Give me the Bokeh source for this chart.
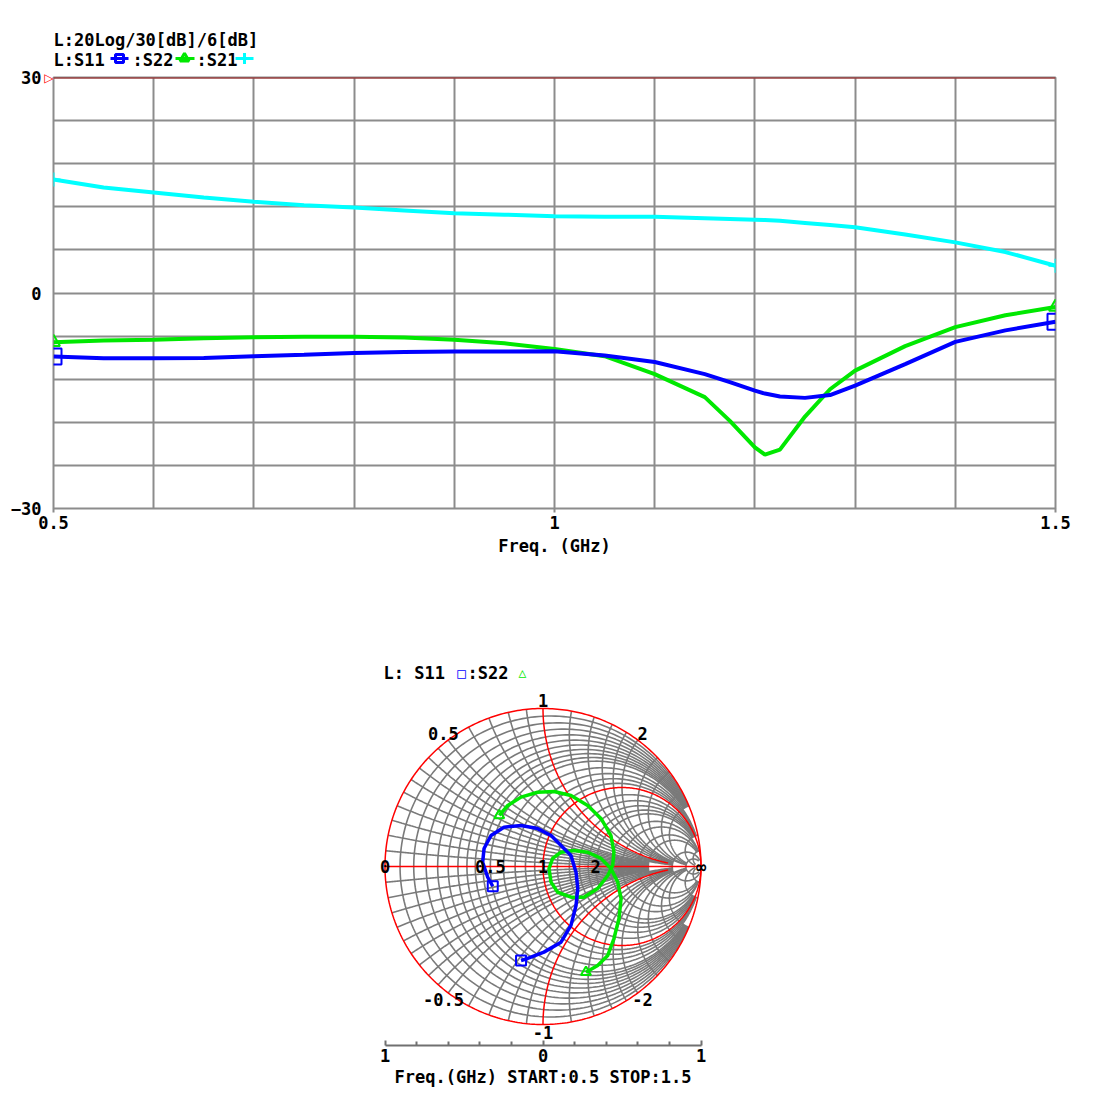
import numpy as np
from bokeh.plotting import figure
from bokeh.models import FixedTicker, Label, Span, Range1d, LinearAxis
from bokeh.layouts import column
from bokeh.embed import file_html
from bokeh.resources import INLINE

FONT = "DejaVu Sans Mono"
FS = "17px"

# ---------------- data: magnitude plot ----------------
freq = [0.5, 0.55, 0.6, 0.65, 0.7, 0.75, 0.8, 0.85, 0.9, 0.95, 1.0, 1.05, 1.1,
        1.15, 1.175, 1.2, 1.21, 1.225, 1.25, 1.275, 1.3, 1.35, 1.4, 1.45, 1.5]
s21_db = [15.8, 14.7, 14.0, 13.3, 12.7, 12.2, 11.9, 11.5, 11.1, 10.9, 10.7, 10.6, 10.6,
          10.4, 10.3, 10.2, 10.15, 10.05, 9.75, 9.45, 9.15, 8.15, 7.05, 5.7, 3.8]
s11_db = [-8.85, -9.1, -9.1, -9.05, -8.8, -8.6, -8.35, -8.2, -8.15, -8.15, -8.1, -8.7, -9.6,
          -11.3, -12.4, -13.6, -14.0, -14.4, -14.6, -14.2, -12.9, -9.9, -6.8, -5.2, -4.0]
s22_db = [-6.85, -6.6, -6.5, -6.3, -6.15, -6.1, -6.1, -6.2, -6.5, -7.0, -7.8, -8.8, -11.3,
          -14.5, -17.8, -21.5, -22.5, -21.8, -17.2, -13.4, -10.8, -7.4, -4.75, -3.1, -1.95]

x_ticks = [0.5, 1.0, 1.5]
x_tick_labels = ["0.5", "1", "1.5"]
y_ticks = [-30, 0, 30]
x_grid = [0.5, 0.6, 0.7, 0.8, 0.9, 1.0, 1.1, 1.2, 1.3, 1.4, 1.5]
y_grid = [-30, -24, -18, -12, -6, 0, 6, 12, 18, 24, 30]
ref_level = 30

# ---------------- data: Smith chart (reflection coefficient) ----------------
s11_re = [-0.318, -0.35, -0.382, -0.373, -0.329, -0.247, -0.139, -0.034, 0.051, 0.114,
          0.177, 0.209, 0.22, 0.209, 0.177, 0.114, 0.006, -0.097, -0.139]
s11_im = [-0.125, -0.068, 0.027, 0.114, 0.196, 0.249, 0.259, 0.24, 0.196, 0.133,
          0.07, -0.036, -0.139, -0.247, -0.373, -0.479, -0.542, -0.582, -0.595]
s22_re = [-0.277, -0.223, -0.139, -0.034, 0.07, 0.177, 0.283, 0.367, 0.43, 0.449, 0.441,
          0.41, 0.346, 0.259, 0.177, 0.093, 0.051, 0.038, 0.061, 0.114, 0.196, 0.283,
          0.367, 0.43, 0.473, 0.494, 0.481, 0.449, 0.41, 0.346, 0.272]
s22_im = [0.323, 0.386, 0.439, 0.470, 0.475, 0.449, 0.386, 0.304, 0.196, 0.09, 0.006,
          -0.057, -0.139, -0.194, -0.194, -0.163, -0.099, -0.013, 0.051, 0.09, 0.101, 0.09,
          0.051, -0.013, -0.099, -0.203, -0.329, -0.456, -0.563, -0.627, -0.669]

axis_r_values = [0.0, 0.5, 1.0, 2.0, 1e9]
axis_r_labels = ["0", "0.5", "1", "2", "∞"]
rim_x_values = [1.0, 0.5, 2.0, -0.5, -1.0, -2.0]
rim_x_labels = ["1", "0.5", "2", "-0.5", "-1", "-2"]
scale_ticks = [-1, 0, 1]
scale_labels = ["1", "0", "1"]

BLUE = "#0000ff"
GREEN = "#00e800"
CYAN = "#00ffff"
GRAY = "#8c8c8c"
RED = "#ff0000"


def lab(fig, x, y, text, color="black", size=FS, align="left", bold=True):
    fig.add_layout(Label(x=x, y=y, text=text, text_font=FONT, text_font_size=size,
                         text_font_style="bold" if bold else "normal",
                         text_color=color, text_align=align, text_baseline="middle"))


# ======================= header (legend of the magnitude plot) =======================
# header coordinates are page pixels
HH = 68
h = figure(frame_width=1002, frame_height=HH, x_range=Range1d(53, 1055), y_range=Range1d(HH, 0),
           output_backend="svg", toolbar_location=None, x_axis_location=None,
           y_axis_location=None, min_border_left=53, min_border_right=39,
           min_border_top=0, min_border_bottom=0)
h.outline_line_color = None
h.xgrid.visible = False
h.ygrid.visible = False
lab(h, 53, 39, "L:20Log/30[dB]/6[dB]")
lab(h, 53, 59, "L:S11")
lab(h, 132, 59, ":S22")
lab(h, 196, 59, ":S21")
legend_keys = [(110, 128, 119, BLUE, "square", 8),
               (175, 194, 184, GREEN, "triangle", 9),
               (235, 253, 244, CYAN, "cross", 11)]
for x0, x1, xc, col, mk, sz in legend_keys:
    h.segment(x0=[x0], y0=[58], x1=[x1], y1=[58], line_color=col, line_width=3)
    h.scatter([xc], [58], marker=mk, size=sz, fill_color=None, line_color=col, line_width=3)

# ======================= top: magnitude =======================
p = figure(frame_width=1002, frame_height=431,
           x_range=Range1d(0.5, 1.5), y_range=Range1d(-30, 30),
           output_backend="svg", toolbar_location=None, y_axis_location=None,
           min_border_left=53, min_border_right=39, min_border_top=77 - HH, min_border_bottom=72)
p.outline_line_color = GRAY
p.outline_line_width = 2
p.xgrid.ticker = FixedTicker(ticks=x_grid)
p.ygrid.ticker = FixedTicker(ticks=y_grid)
for g in (p.xgrid, p.ygrid):
    g.grid_line_color = GRAY
    g.grid_line_width = 2
    g.grid_line_alpha = 1.0

tri_axis = LinearAxis(ticker=FixedTicker(ticks=[ref_level]),
                      major_label_overrides={ref_level: "▷"})
num_axis = LinearAxis(ticker=FixedTicker(ticks=y_ticks))
p.add_layout(tri_axis, "left")
p.add_layout(num_axis, "left")
p.xaxis.ticker = FixedTicker(ticks=x_ticks)
p.xaxis.major_label_overrides = {t: l for t, l in zip(x_ticks, x_tick_labels)}
for ax in (p.xaxis[0], tri_axis, num_axis):
    ax.axis_line_color = None
    ax.major_tick_in = 0
    ax.major_tick_out = 0
    ax.minor_tick_line_color = None
    ax.major_label_text_font = FONT
    ax.major_label_text_font_size = FS
    ax.major_label_text_font_style = "bold"
    ax.major_label_text_color = "black"
    ax.major_label_standoff = 2
p.xaxis.major_tick_out = 4
p.xaxis.major_tick_line_color = GRAY
p.xaxis.major_tick_line_width = 2
p.xaxis.major_label_standoff = 3
tri_axis.major_label_text_color = RED
tri_axis.major_label_text_font = "DejaVu Sans"
tri_axis.major_label_text_font_size = "12px"
tri_axis.major_label_text_font_style = "bold"
tri_axis.major_label_standoff = 0
num_axis.major_label_standoff = 0
p.xaxis.axis_label = "Freq. (GHz)"
p.xaxis.axis_label_text_font = FONT
p.xaxis.axis_label_text_font_size = FS
p.xaxis.axis_label_text_font_style = "bold"
p.xaxis.axis_label_text_color = "black"
p.xaxis.axis_label_standoff = 4

p.add_layout(Span(location=ref_level, dimension="width", line_color="#a01818", line_width=2))

p.line(freq, s22_db, line_color=GREEN, line_width=4)
p.line(freq, s11_db, line_color=BLUE, line_width=4)
p.line(freq, s21_db, line_color=CYAN, line_width=4)
ends = [0, -1]
p.scatter([freq[i] for i in ends], [s11_db[i] for i in ends], marker="square", size=16,
          fill_color=None, line_color=BLUE, line_width=2)
p.scatter([freq[i] for i in ends], [s22_db[i] for i in ends], marker="triangle", size=13,
          fill_color=None, line_color=GREEN, line_width=2)
p.scatter([freq[i] for i in ends], [s21_db[i] for i in ends], marker="cross", size=14,
          line_color=CYAN, line_width=2)

# ======================= bottom: Smith chart =======================
CX, CY, R = 542.5, 866.0, 158.0


def gx(px):
    return (px - CX) / R


def gy(py):
    return (CY - py) / R


s = figure(frame_width=979, frame_height=455,
           x_range=Range1d(gx(53), gx(1032)), y_range=Range1d(gy(1045), gy(590)),
           output_backend="svg", toolbar_location=None, y_axis_location=None,
           min_border_left=53, min_border_right=62, min_border_top=10, min_border_bottom=56)
s.outline_line_color = None
s.xgrid.visible = False
s.ygrid.visible = False


def to_gamma(z):
    g = (z - 1) / (z + 1)
    return list(g.real), list(g.imag)


def r_circle(r, xmax, n=200):
    lim = np.arctan(xmax / (1 + r))
    psi = np.linspace(-lim, lim, n)
    return to_gamma(r + 1j * (1 + r) * np.tan(psi))


def x_arc(x, rmax, n=200):
    ax_ = abs(x)
    psi = np.linspace(np.arctan(ax_ / (1 + rmax)), np.arctan(ax_), n)
    r = np.clip(ax_ / np.tan(psi) - 1, 0, None)
    return to_gamma(r + 1j * x)


grid_vals = [0.05, 0.1, 0.15, 0.2, 0.25, 0.3, 0.35, 0.4, 0.45, 0.5, 0.6, 0.7, 0.8, 0.9,
             1.2, 1.4, 1.6, 1.8, 2.0, 2.5, 3.0, 4.0, 5.0, 10.0, 20.0]


def grid_limit(v):
    if v <= 0.5:
        return 5.0
    if v <= 2.0:
        return 10.0
    if v <= 5.0:
        return 20.0
    return 50.0


gxs, gys = [], []
for v in grid_vals:
    lim = grid_limit(v)
    xr, yr = r_circle(v, lim)
    gxs.append(xr); gys.append(yr)
    for sgn in (1, -1):
        xa, ya = x_arc(sgn * v, lim)
        gxs.append(xa); gys.append(ya)
s.multi_line(gxs, gys, line_color="#7a7a7a", line_width=1.6)

rxs, rys = [], []
for r in (0.0, 1.0):
    xr, yr = r_circle(r, 1e7, 400)
    rxs.append(xr); rys.append(yr)
for xv in (1.0, -1.0):
    xa, ya = x_arc(xv, 8.5, 300)
    rxs.append(xa); rys.append(ya)
rxs.append([-1.0, 1.0]); rys.append([0.0, 0.0])
s.multi_line(rxs, rys, line_color=RED, line_width=1.5)

s.line(s22_re, s22_im, line_color=GREEN, line_width=3.5)
s.line(s11_re, s11_im, line_color=BLUE, line_width=3.5)
s.scatter([s11_re[i] for i in ends], [s11_im[i] for i in ends], marker="square", size=10,
          fill_color=None, line_color=BLUE, line_width=2)
s.scatter([s22_re[i] for i in ends], [s22_im[i] for i in ends], marker="triangle", size=10,
          fill_color=None, line_color=GREEN, line_width=2)

# scale bar below the chart
s.xaxis.bounds = (-1, 1)
s.xaxis.ticker = FixedTicker(ticks=scale_ticks,
                             minor_ticks=[-0.8, -0.6, -0.4, -0.2, 0.2, 0.4, 0.6, 0.8])
s.xaxis.major_label_overrides = {t: l for t, l in zip(scale_ticks, scale_labels)}
s.xaxis.axis_line_color = "#707070"
s.xaxis.axis_line_width = 2
s.xaxis.major_tick_in = 5
s.xaxis.major_tick_out = 0
s.xaxis.minor_tick_in = 4
s.xaxis.minor_tick_out = 0
s.xaxis.major_tick_line_color = "#707070"
s.xaxis.minor_tick_line_color = "#707070"
s.xaxis.major_tick_line_width = 2
s.xaxis.minor_tick_line_width = 2
s.xaxis.major_label_text_font = FONT
s.xaxis.major_label_text_font_size = FS
s.xaxis.major_label_text_font_style = "bold"
s.xaxis.major_label_text_color = "black"
s.xaxis.major_label_standoff = 3
s.xaxis.axis_label = "Freq.(GHz) START:0.5 STOP:1.5"
s.xaxis.axis_label_text_font = FONT
s.xaxis.axis_label_text_font_size = FS
s.xaxis.axis_label_text_font_style = "bold"
s.xaxis.axis_label_text_color = "black"
s.xaxis.axis_label_standoff = 2

# chart labels
for rv, txt in zip(axis_r_values, axis_r_labels):
    gr = (rv - 1) / (rv + 1)
    lab(s, gr, 0.0, txt, align="center")
for xv, txt in zip(rim_x_values, rim_x_labels):
    g = (1j * xv - 1) / (1j * xv + 1)
    lab(s, 1.05 * g.real, 1.05 * g.imag, txt, align="center")

lab(s, gx(383), gy(672), "L: S11")
lab(s, gx(461), gy(672), "□", BLUE, "14px", "center", False)
lab(s, gx(467), gy(672), ":S22")
lab(s, gx(522), gy(672), "△", GREEN, "13px", "center", False)

layout = column(h, p, s)
open("out.html", "w").write(file_html(layout, INLINE))
